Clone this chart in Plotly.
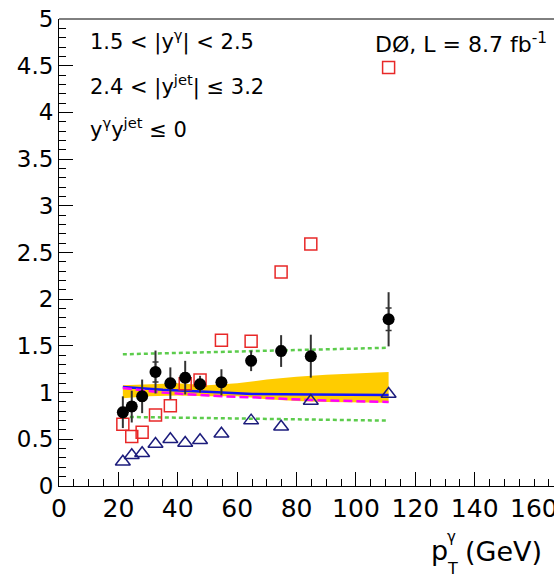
import plotly.graph_objects as go

# ---- data ----
pt = [21.5, 24.5, 28.0, 32.5, 37.5, 42.5, 47.5, 54.7, 64.7, 74.8, 84.8, 111.0]
data_y = [0.79, 0.85, 0.96, 1.22, 1.10, 1.16, 1.09, 1.11, 1.34, 1.445, 1.39, 1.785]
data_err = [0.17, 0.17, 0.18, 0.23, 0.17, 0.18, 0.09, 0.14, 0.11, 0.17, 0.23, 0.29]
data_syst = [0.05, 0.05, 0.05, 0.107, 0.05, 0.05, 0.05, 0.05, 0.05, 0.05, 0.05, 0.12]

sq_y = [0.66, 0.53, 0.575, 0.76, 0.86, 1.095, 1.135, 1.56, 1.55, 2.29, 2.59, 4.48]
tri_y = [0.26, 0.33, 0.35, 0.45, 0.50, 0.46, 0.49, 0.56, 0.70, 0.635, 0.91, 0.985]

band_x = [21.5, 30, 40, 50, 60, 70, 80, 90, 111]
band_hi = [1.08, 1.09, 1.10, 1.08, 1.10, 1.14, 1.17, 1.19, 1.22]
band_lo = [0.94, 0.96, 0.97, 0.96, 0.96, 0.93, 0.91, 0.90, 0.89]

line_x = [21.5, 35, 55, 65, 85, 111]
blue_y = [1.06, 1.03, 1.00, 0.985, 0.98, 0.975]
mag_y = [1.05, 1.00, 0.96, 0.95, 0.92, 0.90]
green_hi = [1.41, 1.42, 1.44, 1.45, 1.46, 1.48]
green_lo = [0.74, 0.735, 0.725, 0.72, 0.715, 0.70]

x_tick_vals = [0, 20, 40, 60, 80, 100, 120, 140, 160]
x_tick_text = ["0", "20", "40", "60", "80", "100", "120", "140", "160"]

FONT = "DejaVu Sans"
L, T, B = 59, 19, 95
W, H = 554, 581
PW, PH = W - L, H - T - B


def px(xp):
    return (xp - L) / PW


def py(yp):
    return (H - B - yp) / PH


fig = go.Figure()

# yellow band
fig.add_trace(go.Scatter(x=band_x, y=band_lo, mode="lines", line=dict(width=0),
                         showlegend=False, hoverinfo="skip"))
fig.add_trace(go.Scatter(x=band_x, y=band_hi, mode="lines", line=dict(width=0),
                         fill="tonexty", fillcolor="#ffcc00", showlegend=False, hoverinfo="skip"))

# theory lines
fig.add_trace(go.Scatter(x=line_x, y=green_hi, mode="lines",
                         line=dict(color="#5ccc4c", width=2.5, dash="4px,3px"), showlegend=False))
fig.add_trace(go.Scatter(x=line_x, y=green_lo, mode="lines",
                         line=dict(color="#5ccc4c", width=2.5, dash="4px,3px"), showlegend=False))
fig.add_trace(go.Scatter(x=line_x, y=blue_y, mode="lines",
                         line=dict(color="#1414ff", width=2.5), showlegend=False))
fig.add_trace(go.Scatter(x=line_x, y=mag_y, mode="lines",
                         line=dict(color="#ff00ff", width=2.5, dash="9px,4px"), showlegend=False))

# triangles
fig.add_trace(go.Scatter(x=pt, y=tri_y, mode="markers",
                         marker=dict(symbol="triangle-up-open", size=13, color="#1c1c7c",
                                     line=dict(width=1.5, color="#1c1c7c")), showlegend=False))
# squares
fig.add_trace(go.Scatter(x=pt, y=sq_y, mode="markers",
                         marker=dict(symbol="square-open", size=12, color="#e82828",
                                     line=dict(width=1.5, color="#e82828")), showlegend=False))

# systematic caps
fig.add_trace(go.Scatter(x=pt, y=data_y, mode="markers", marker=dict(size=1, opacity=0),
                         error_y=dict(type="data", array=data_syst, color="#333333",
                                      thickness=1.5, width=3), showlegend=False))
# data points with total errors
fig.add_trace(go.Scatter(x=pt, y=data_y, mode="markers",
                         marker=dict(symbol="circle", size=12, color="black"),
                         error_y=dict(type="data", array=data_err, color="#333333",
                                      thickness=2, width=0), showlegend=False))

# frame top line
fig.add_shape(type="line", xref="paper", yref="paper", x0=0, x1=1, y0=1, y1=1,
              line=dict(color="black", width=1))

ann_font = dict(family=FONT, size=21, color="black")
fig.add_annotation(x=9.6, y=4.77, xref="x", yref="y", xanchor="left", yanchor="middle",
                   text="1.5 < |y<sup>γ</sup>| < 2.5", showarrow=False, font=ann_font)
fig.add_annotation(x=9.6, y=4.29, xref="x", yref="y", xanchor="left", yanchor="middle",
                   text="2.4 < |y<sup>jet</sup>| ≤ 3.2", showarrow=False, font=ann_font)
fig.add_annotation(x=9.6, y=3.83, xref="x", yref="y", xanchor="left", yanchor="middle",
                   text="y<sup>γ</sup>y<sup>jet</sup> ≤ 0", showarrow=False, font=ann_font)
fig.add_annotation(x=px(373), y=py(43), xref="paper", yref="paper", xanchor="left", yanchor="middle",
                   text="DØ, L = 8.7 fb<sup>-1</sup>", showarrow=False,
                   font=dict(family=FONT, size=22, color="black"))

# the last x tick label, clipped by the canvas edge as in the reference
fig.add_annotation(x=x_tick_vals[-1], y=py(509), xref="x", yref="paper",
                   xanchor="center", yanchor="middle", text=x_tick_text[-1],
                   showarrow=False, font=dict(family=FONT, size=25, color="black"))

# axis title p_T^gamma (GeV), stacked sub/superscript, clipped at the right edge
fig.add_annotation(x=px(429), y=py(550), xref="paper", yref="paper", xanchor="left",
                   yanchor="middle", text="p", showarrow=False,
                   font=dict(family=FONT, size=27, color="black"))
fig.add_annotation(x=px(445), y=py(537), xref="paper", yref="paper", xanchor="left",
                   yanchor="middle", text="γ", showarrow=False,
                   font=dict(family=FONT, size=15, color="black"))
fig.add_annotation(x=px(445), y=py(568), xref="paper", yref="paper", xanchor="left",
                   yanchor="middle", text="T", showarrow=False,
                   font=dict(family=FONT, size=16, color="black"))
fig.add_annotation(x=px(463), y=py(551), xref="paper", yref="paper", xanchor="left",
                   yanchor="middle", text="(GeV)", showarrow=False,
                   font=dict(family=FONT, size=27, color="black"))

fig.update_layout(
    width=W, height=H,
    margin=dict(l=L, r=0, t=T, b=B),
    paper_bgcolor="white", plot_bgcolor="white",
    font=dict(family=FONT, size=23, color="black"),
    xaxis=dict(range=[0, 166.7], showgrid=False, zeroline=False, showline=True,
               linecolor="black", linewidth=1, ticks="inside", ticklen=14, tickcolor="black",
               tickmode="array", tickvals=x_tick_vals[:-1], ticktext=x_tick_text[:-1],
               tickfont=dict(family=FONT, size=25),
               minor=dict(ticks="inside", dtick=5, tick0=0, ticklen=7, tickcolor="black")),
    yaxis=dict(range=[0, 5], showgrid=False, zeroline=False, showline=True,
               linecolor="black", linewidth=1, ticks="inside", ticklen=14, tickcolor="black",
               dtick=0.5, tick0=0, tickfont=dict(family=FONT, size=23),
               minor=dict(ticks="inside", dtick=0.1, ticklen=7, tickcolor="black")),
)

fig.write_html("out.html")
